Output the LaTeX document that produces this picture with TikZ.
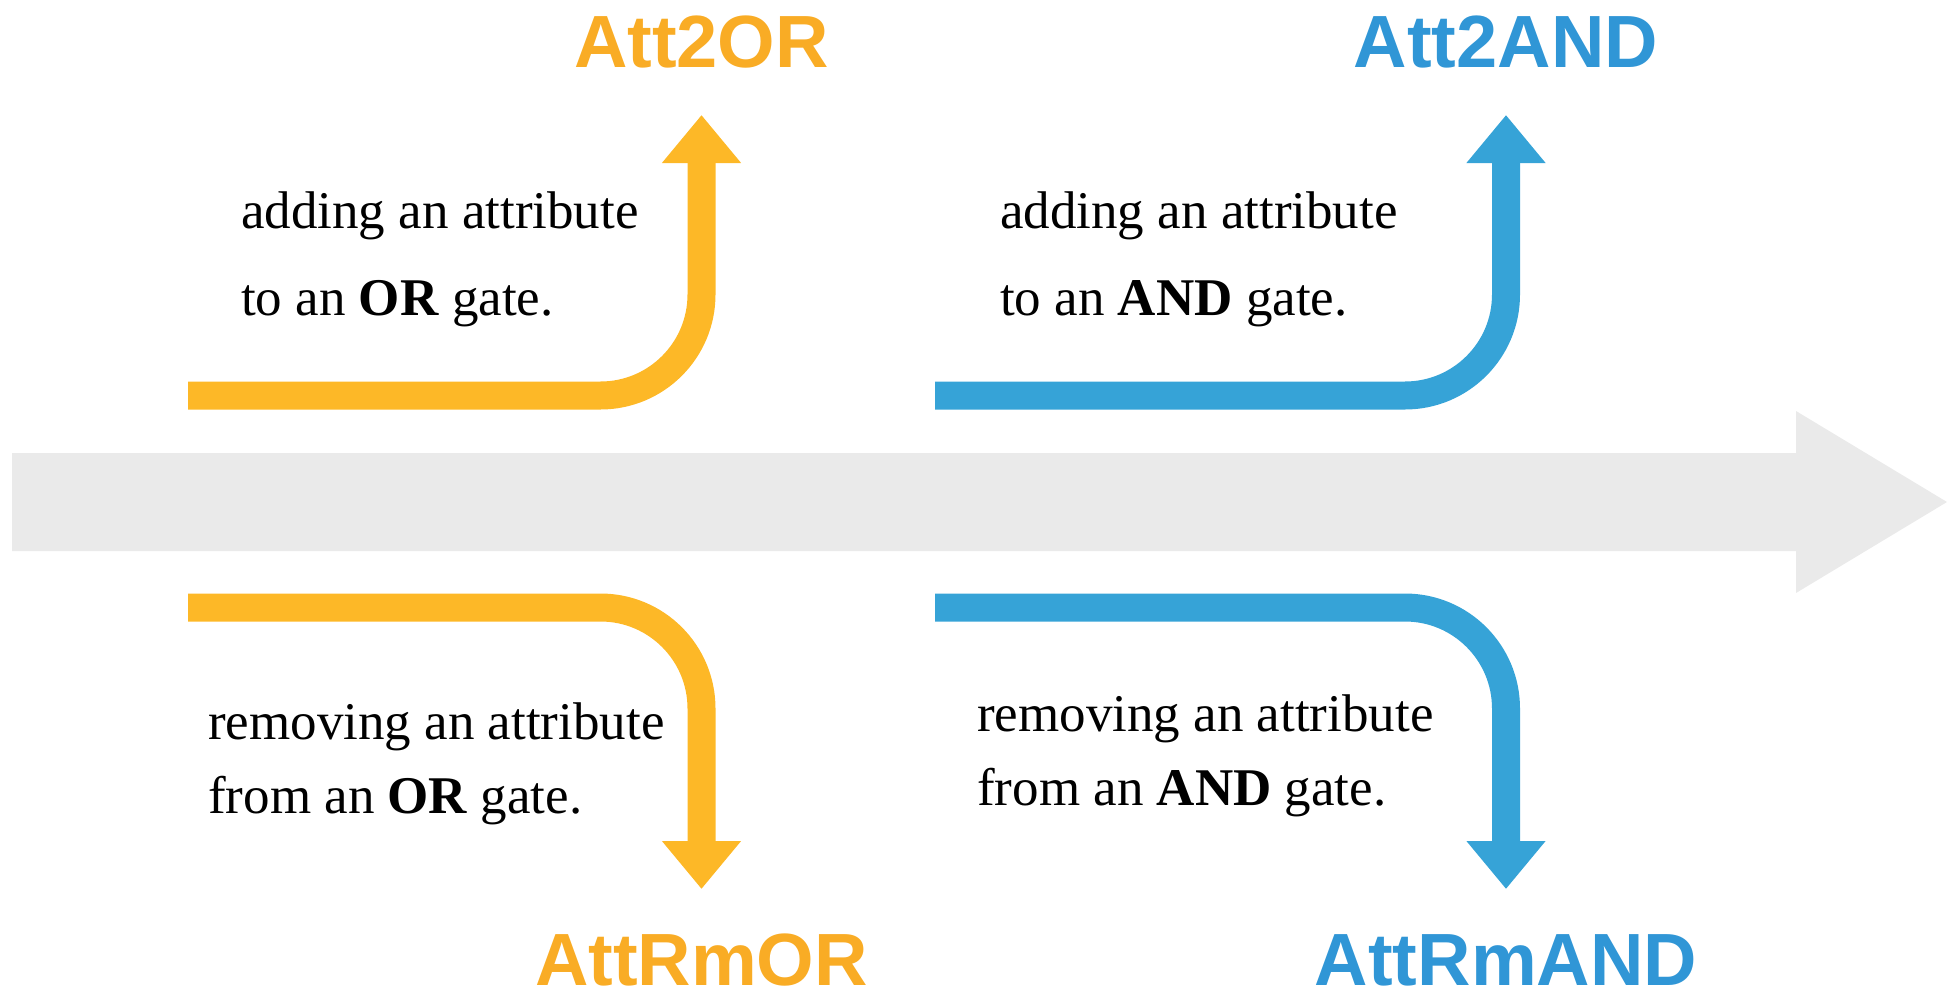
\documentclass[tikz,border=0pt]{standalone}
\usepackage{fontspec}
\setmainfont{Liberation Serif}
\newfontfamily\headfont{Liberation Sans}
\usetikzlibrary{arrows.meta}

\definecolor{orarrow}{HTML}{FDB827}
\definecolor{orlabel}{HTML}{F9AC25}
\definecolor{andarrow}{HTML}{36A3D7}
\definecolor{andlabel}{HTML}{3096D6}
\definecolor{timeline}{HTML}{EAEAEA}

\tikzset{
  gatearrow/.style={line width=28pt, rounded corners=101pt, line cap=butt,
    -{Triangle[width=76pt,length=48pt]}},
  oplabel/.style={font=\headfont\bfseries\fontsize{74}{80}\selectfont,
    anchor=base, inner sep=0pt},
  desc/.style={font=\fontsize{53}{60}\selectfont, anchor=base west,
    inner sep=0pt, text=black},
}

\begin{document}
\begin{tikzpicture}[x=1pt,y=-1pt]
  \useasboundingbox (0,0) rectangle (1949,988);

  % timeline arrow
  \fill[timeline] (12,453) -- (1796,453) -- (1796,411) -- (1947,502)
    -- (1796,593) -- (1796,551) -- (12,551) -- cycle;

  % operation labels
  \node[oplabel, text=orlabel]  (att2or)   at (701.5,67)  {Att2OR};
  \node[oplabel, text=andlabel] (att2and)  at (1506,67)   {Att2AND};
  \node[oplabel, text=orlabel]  (attrmor)  at (701.5,985) {AttRmOR};
  \node[oplabel, text=andlabel] (attrmand) at (1506,985)  {AttRmAND};

  % start and end points of the bent arrows
  \coordinate (s1) at (188,395.5);
  \coordinate (t1) at (701.5,115);
  \coordinate (s2) at (935,395.5);
  \coordinate (t2) at (1506,115);
  \coordinate (s3) at (188,607.5);
  \coordinate (t3) at (701.5,889);
  \coordinate (s4) at (935,607.5);
  \coordinate (t4) at (1506,889);

  \draw[gatearrow, draw=orarrow]  (s1) -| (t1);
  \draw[gatearrow, draw=andarrow] (s2) -| (t2);
  \draw[gatearrow, draw=orarrow]  (s3) -| (t3);
  \draw[gatearrow, draw=andarrow] (s4) -| (t4);

  % descriptions
  \node[desc] (d1a) at (241,228) {adding an attribute};
  \node[desc] (d1b) at (241,315) {to an \textbf{OR} gate.};
  \node[desc] (d2a) at (1000,228) {adding an attribute};
  \node[desc] (d2b) at (1000,315) {to an \textbf{AND} gate.};
  \node[desc] (d3a) at (208,739) {removing an attribute};
  \node[desc] (d3b) at (208,813) {from an \textbf{OR} gate.};
  \node[desc] (d4a) at (977,731) {removing an attribute};
  \node[desc] (d4b) at (977,805) {from an \textbf{AND} gate.};
\end{tikzpicture}
\end{document}
